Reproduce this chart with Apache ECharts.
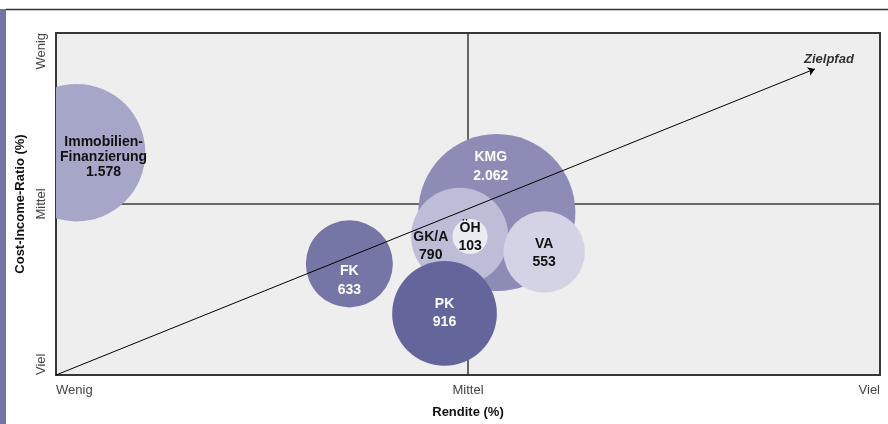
<!DOCTYPE html>
<html>
<head>
<meta charset="utf-8">
<script src="https://cdn.jsdelivr.net/npm/echarts@6/dist/echarts.min.js"></script>
<style>
  html, body { margin: 0; padding: 0; background: #ffffff; }
  #chart { width: 888px; height: 424px; }
</style>
</head>
<body>
<div id="chart"></div>
<script>
// Segments: return (x), cost-income ratio (y, 0 = viel, 2 = wenig), volume (bubble area)
const segments = ['KMG', 'GK/A', 'ÖH', 'VA', 'FK', 'PK', 'Immobilien-\nFinanzierung'];
const rendite  = [1.07, 0.98, 1.005, 1.185, 0.712, 0.943, 0.05];
const cir      = [0.95, 0.81, 0.81, 0.72, 0.65, 0.36, 1.30];
const volumen  = [2062, 790, 103, 553, 633, 916, 1578];

// Axis tick labels
const xTicks = ['Wenig', 'Mittel', 'Viel'];
const yTicks = ['Viel', 'Mittel', 'Wenig'];

// Target path arrow (start, end)
const pfadX = [0, 1.842];
const pfadY = [0, 1.79];

// Styling
const bubbleColors = ['#8c8cb6', '#bdbdd7', '#ebebf2', '#d3d3e5', '#7676a6', '#63659b', '#a6a6c8'];
const labelColors  = ['#ffffff', '#111111', '#111111', '#111111', '#ffffff', '#ffffff', '#111111'];
const labelShift   = [[-6, -46], [-29, 10], [0, 1], [0, 1], [0, 17], [0, 0], [27, 4]];
const labelLineH   = [19, 18, 18, 18, 19, 18, 15];
const R_SCALE = 1.73;
const FONT = '"Liberation Sans", Arial, Helvetica, sans-serif';

function fmt(v) {
  return String(v).replace(/\B(?=(\d{3})+(?!\d))/g, '.');
}

const points = segments.map((s, i) => [rendite[i], cir[i], volumen[i]]);

const chart = echarts.init(document.getElementById('chart'), null, { renderer: 'canvas' });

chart.setOption({
  animation: false,
  backgroundColor: '#ffffff',
  graphic: [
    { type: 'rect', left: 0, top: 9, shape: { width: 6, height: 415 }, style: { fill: '#7575a5' }, z: 10 },
    { type: 'line', shape: { x1: 6, y1: 9.5, x2: 888, y2: 9.5 }, style: { stroke: '#333333', lineWidth: 1.5 }, z: 10 }
  ],
  grid: {
    left: 56, top: 33, right: 8, bottom: 49,
    show: true,
    backgroundColor: '#eeeeee',
    borderColor: '#333333',
    borderWidth: 2
  },
  xAxis: {
    type: 'value', min: 0, max: 2, interval: 1,
    name: 'Rendite (%)',
    nameLocation: 'middle',
    nameGap: 31,
    nameTextStyle: { fontFamily: FONT, fontSize: 13, fontWeight: 'bold', color: '#111111' },
    axisLine: { show: false },
    axisTick: { show: false },
    splitLine: { show: true, lineStyle: { color: '#3a3a3a', width: 1.5 } },
    axisLabel: {
      margin: 9,
      fontFamily: FONT, fontSize: 13, color: '#444444',
      alignMinLabel: 'left', alignMaxLabel: 'right',
      formatter: v => xTicks[Math.round(v)]
    }
  },
  yAxis: {
    type: 'value', min: 0, max: 2, interval: 1,
    name: 'Cost-Income-Ratio (%)',
    nameLocation: 'middle',
    nameGap: 25,
    nameTextStyle: { fontFamily: FONT, fontSize: 13, fontWeight: 'bold', color: '#111111' },
    axisLine: { show: false },
    axisTick: { show: false },
    splitLine: { show: true, lineStyle: { color: '#3a3a3a', width: 1.5 } },
    axisLabel: {
      rotate: 90,
      margin: 8,
      fontFamily: FONT, fontSize: 13, color: '#444444',
      alignMinLabel: 'left', alignMaxLabel: 'right',
      formatter: v => yTicks[Math.round(v)]
    }
  },
  series: [
    {
      // bubbles, clipped to the plot area
      type: 'custom',
      clip: true,
      silent: true,
      data: points,
      renderItem: function (params, api) {
        const p = api.coord([api.value(0), api.value(1)]);
        const r = R_SCALE * Math.sqrt(api.value(2));
        return {
          type: 'circle',
          shape: { cx: p[0], cy: p[1], r: r },
          style: { fill: bubbleColors[params.dataIndex] }
        };
      },
      z: 2
    },
    {
      // Zielpfad arrow
      type: 'scatter',
      silent: true,
      symbolSize: 0,
      data: [],
      markLine: {
        silent: true,
        symbol: ['none', 'arrow'],
        symbolSize: 7,
        label: { show: false },
        lineStyle: { color: '#000000', width: 1, type: 'solid' },
        emphasis: { disabled: true },
        data: [[{ coord: [pfadX[0], pfadY[0]] }, { coord: [pfadX[1], pfadY[1]] }]]
      },
      z: 3
    },
    {
      // arrow caption
      type: 'scatter',
      silent: true,
      symbolSize: 0,
      data: [[pfadX[1], pfadY[1]]],
      label: {
        show: true,
        position: 'inside',
        offset: [14, -9],
        formatter: 'Zielpfad',
        fontFamily: FONT, fontSize: 13, fontWeight: 'bold', fontStyle: 'italic', color: '#000000'
      },
      z: 4
    },
    {
      // bubble captions
      type: 'custom',
      silent: true,
      data: points,
      renderItem: function (params, api) {
        const i = params.dataIndex;
        const p = api.coord([api.value(0), api.value(1)]);
        return {
          type: 'text',
          x: p[0] + labelShift[i][0],
          y: p[1] + labelShift[i][1],
          style: {
            text: segments[i] + '\n' + fmt(api.value(2)),
            fill: labelColors[i],
            font: 'bold 14px ' + FONT,
            align: 'center',
            verticalAlign: 'middle',
            lineHeight: labelLineH[i]
          }
        };
      },
      z: 5
    }
  ]
});
</script>
</body>
</html>
